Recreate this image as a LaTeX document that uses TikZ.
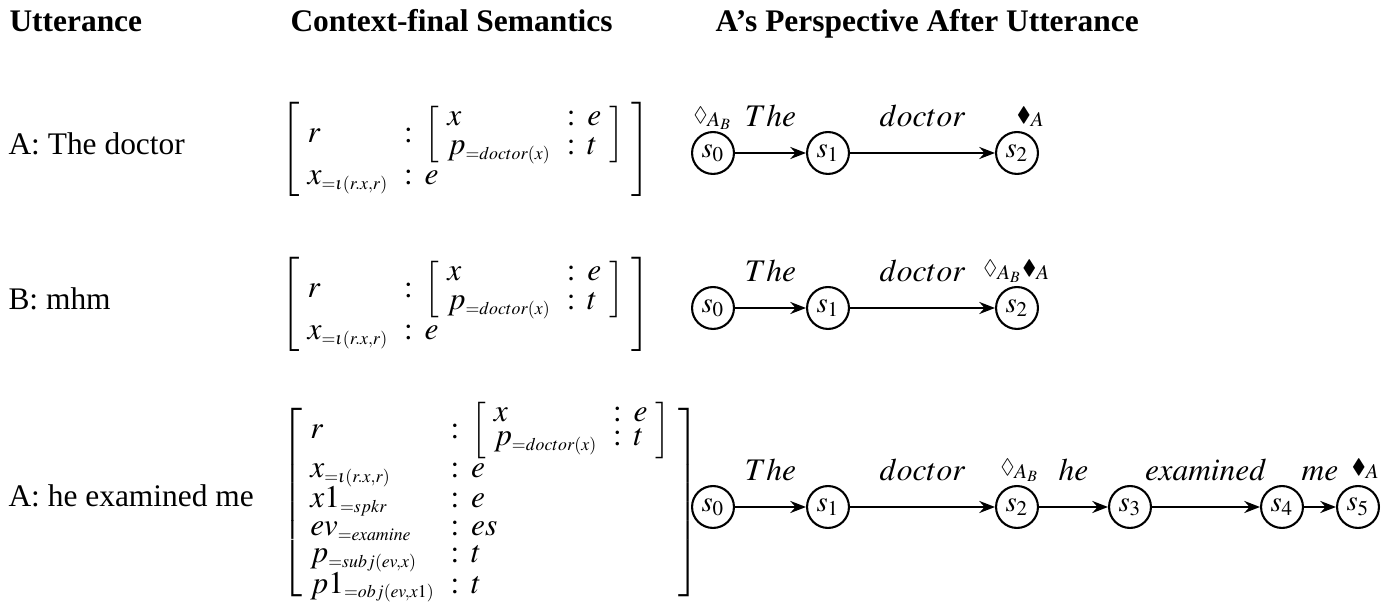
\documentclass[tikz,border=0pt,12pt]{standalone}
\usepackage{amssymb}
\usepackage{mathptmx}
\usepackage[no-math]{fontspec}
\setmainfont{Liberation Serif}
\usetikzlibrary{arrows.meta,positioning}
\DeclareMathSizes{12}{12}{6.8}{5.2}
\setlength{\arraycolsep}{3pt}
\newcommand{\ttrcols}{l@{\hspace{6pt}}c@{\hspace{4.5pt}}l}

\begin{document}
\begin{tikzpicture}[x=0.3818pt, y=-0.3818pt,
  head/.style={anchor=base west, font=\bfseries, inner sep=0pt},
  utt/.style={anchor=base west, inner sep=0pt},
  ttr/.style={anchor=base west, inner sep=0pt},
  state/.style={circle, draw, line width=0.8pt, minimum size=16pt, inner sep=0pt, font=\small},
  arr/.style={line width=0.8pt, -{Stealth[length=6pt,width=4.6pt,inset=2pt]}},
  word/.style={anchor=base, inner sep=0pt, yshift=10pt},
  mk/.style={anchor=base, inner sep=0pt, font=\small},
]
  \useasboundingbox (0,0) rectangle (1398,614);

  % column heads
  \node[head] (h1) at (9,32) {Utterance};
  \node[head] (h2) at (290,32) {Context-final Semantics};
  \node[head] (h3) at (715,32) {A’s Perspective After Utterance};

  % utterances
  \node[utt] (u1) at (8,155) {A: The doctor};
  \node[utt] (u2) at (8,310) {B: mhm};
  \node[utt] (u3) at (8,507) {A: he examined me};

  % record types
  \node[ttr] (sem1) at (281,157) {$\renewcommand{\arraystretch}{0.78}\left[\begin{array}{\ttrcols}
    r & : & \left[\begin{array}{\ttrcols} x & : & e\\ p_{=doctor(x)} & : & t \end{array}\right]\\
    x_{=\iota(r.x,r)} & : & e
  \end{array}\right]$};
  \node[ttr] (sem2) at (281,312) {$\renewcommand{\arraystretch}{0.78}\left[\begin{array}{\ttrcols}
    r & : & \left[\begin{array}{\ttrcols} x & : & e\\ p_{=doctor(x)} & : & t \end{array}\right]\\
    x_{=\iota(r.x,r)} & : & e
  \end{array}\right]$};
  \node[ttr] (sem3) at (281,510) {$\renewcommand{\arraystretch}{0.72}\left[\begin{array}{\ttrcols}
    r & : & \renewcommand{\arraystretch}{0.6}\left[\begin{array}{\ttrcols} x & : & e\\ p_{=doctor(x)} & : & t \end{array}\right]\\
    x_{=\iota(r.x,r)} & : & e\\
    x1_{=spkr} & : & e\\
    ev_{=examine} & : & es\\
    p_{=subj(ev,x)} & : & t\\
    p1_{=obj(ev,x1)} & : & t
  \end{array}\right]$};

  % perspective after A: The doctor
  \node[state] (a0) at (713,153) {$s_0$};
  \node[state] (a1) at (828,153) {$s_1$};
  \node[state] (a2) at (1017,153) {$s_2$};
  \draw[arr] (a0) -- node[word] {$The$} (a1);
  \draw[arr] (a1) -- node[word] {$doctor$} (a2);
  \node[mk] (ma0) at ([shift={(0,-31)}]a0.center) {${\scriptstyle\lozenge}_{A_B}$};
  \node[mk] (ma2) at ([shift={(14,-31)}]a2.center) {${\scriptstyle\blacklozenge}_{A}$};

  % perspective after B: mhm
  \node[state] (b0) at (713,308) {$s_0$};
  \node[state] (b1) at (828,308) {$s_1$};
  \node[state] (b2) at (1017,308) {$s_2$};
  \draw[arr] (b0) -- node[word] {$The$} (b1);
  \draw[arr] (b1) -- node[word] {$doctor$} (b2);
  \node[mk] (mb2) at ([shift={(0,-33)}]b2.center) {${\scriptstyle\lozenge}_{A_B}{\scriptstyle\blacklozenge}_{A}$};

  % perspective after A: he examined me
  \node[state] (c0) at (713,507) {$s_0$};
  \node[state] (c1) at (828,507) {$s_1$};
  \node[state] (c2) at (1017,507) {$s_2$};
  \node[state] (c3) at (1130,507) {$s_3$};
  \node[state] (c4) at (1282,507) {$s_4$};
  \node[state] (c5) at (1358,507) {$s_5$};
  \draw[arr] (c0) -- node[word] {$The$} (c1);
  \draw[arr] (c1) -- node[word] {$doctor$} (c2);
  \draw[arr] (c2) -- node[word] {$he$} (c3);
  \draw[arr] (c3) -- node[word] {$examined$} (c4);
  \draw[arr] (c4) -- node[word] {$me$} (c5);
  \node[mk] (mc2) at ([shift={(3,-33)}]c2.center) {${\scriptstyle\lozenge}_{A_B}$};
  \node[mk] (mc5) at ([shift={(8,-33)}]c5.center) {${\scriptstyle\blacklozenge}_{A}$};
\end{tikzpicture}
\end{document}
